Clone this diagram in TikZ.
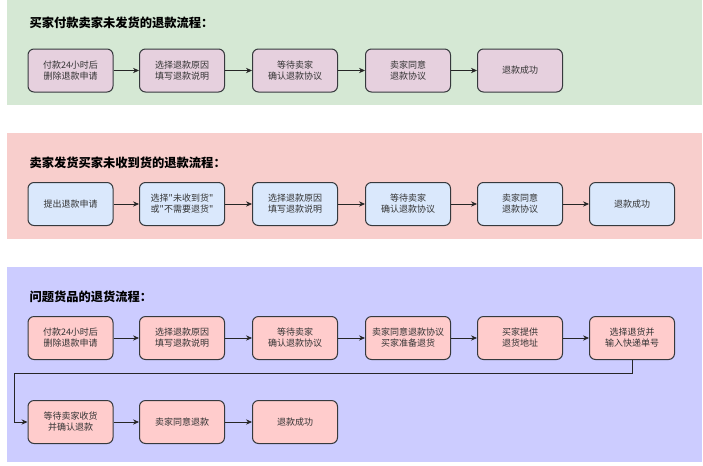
\documentclass[tikz,border=0pt]{standalone}
\usepackage{fontspec}
\setmainfont{Noto Sans CJK SC}[Ligatures=TeXOff]
\usetikzlibrary{arrows.meta}

\definecolor{greenbg}{RGB}{213,232,212}
\definecolor{pinkbg}{RGB}{248,206,204}
\definecolor{lavbg}{RGB}{204,204,255}
\definecolor{mauvebox}{RGB}{230,208,222}
\definecolor{bluebox}{RGB}{218,232,252}
\definecolor{rosebox}{RGB}{255,204,204}
\definecolor{edge}{RGB}{54,57,61}

\tikzset{every picture/.style={line width=0.75pt}}
\tikzset{
  stepbox/.style={draw=edge, rounded corners=4.5pt, minimum width=63.75pt,
    minimum height=32.25pt, inner sep=0pt, align=center,
    font=\fontsize{6.75}{8.25}\selectfont, text=black!80},
  headline/.style={anchor=west, inner sep=0pt, font=\fontsize{9.2}{11}\selectfont\bfseries},
  flow/.style={draw=black!85, line width=0.6pt, -{Stealth[length=4.5pt,width=4pt]}}
}

\begin{document}
\begin{tikzpicture}[x=0.75pt,y=0.75pt,yscale=-1,xscale=1]
\useasboundingbox (0,0) rectangle (703,465);

%Shape: Rectangle [panels]
\fill [greenbg] (7,0) rectangle (702,105);
\fill [pinkbg] (7,133) rectangle (702,239);
\fill [lavbg] (7,267) rectangle (702,462);

%Text: headlines
\node [headline] (headA) at (29,23) {买家付款卖家未发货的退款流程：};
\node [headline] (headB) at (29,163) {卖家发货买家未收到货的退款流程：};
\node [headline] (headC) at (29,297) {问题货品的退货流程：};

%Flow A
\node [stepbox, fill=mauvebox] (a1) at (70.5,70.5) {付款24小时后\\删除退款申请};
\node [stepbox, fill=mauvebox] (a2) at (182,70.5) {选择退款原因\\填写退款说明};
\node [stepbox, fill=mauvebox] (a3) at (295,70.5) {等待卖家\\确认退款协议};
\node [stepbox, fill=mauvebox] (a4) at (408,70.5) {卖家同意\\退款协议};
\node [stepbox, fill=mauvebox] (a5) at (520,70.5) {退款成功};
\draw [flow] (a1) -- (a2);
\draw [flow] (a2) -- (a3);
\draw [flow] (a3) -- (a4);
\draw [flow] (a4) -- (a5);

%Flow B
\node [stepbox, fill=bluebox] (b1) at (70.5,204) {提出退款申请};
\node [stepbox, fill=bluebox] (b2) at (182,204) {选择"未收到货"\\或"不需要退货"};
\node [stepbox, fill=bluebox] (b3) at (295,204) {选择退款原因\\填写退款说明};
\node [stepbox, fill=bluebox] (b4) at (408,204) {等待卖家\\确认退款协议};
\node [stepbox, fill=bluebox] (b5) at (520,204) {卖家同意\\退款协议};
\node [stepbox, fill=bluebox] (b6) at (632,204) {退款成功};
\draw [flow] (b1) -- (b2);
\draw [flow] (b2) -- (b3);
\draw [flow] (b3) -- (b4);
\draw [flow] (b4) -- (b5);
\draw [flow] (b5) -- (b6);

%Flow C
\node [stepbox, fill=rosebox] (c1) at (70.5,338) {付款24小时后\\删除退款申请};
\node [stepbox, fill=rosebox] (c2) at (182,338) {选择退款原因\\填写退款说明};
\node [stepbox, fill=rosebox] (c3) at (295,338) {等待卖家\\确认退款协议};
\node [stepbox, fill=rosebox] (c4) at (408,338) {卖家同意退款协议\\买家准备退货};
\node [stepbox, fill=rosebox] (c5) at (520,338) {买家提供\\退货地址};
\node [stepbox, fill=rosebox] (c6) at (632,338) {选择退货并\\输入快递单号};
\node [stepbox, fill=rosebox] (c7) at (70.5,422) {等待卖家收货\\并确认退款};
\node [stepbox, fill=rosebox] (c8) at (182,422) {卖家同意退款};
\node [stepbox, fill=rosebox] (c9) at (295,422) {退款成功};
\draw [flow] (c1) -- (c2);
\draw [flow] (c2) -- (c3);
\draw [flow] (c3) -- (c4);
\draw [flow] (c4) -- (c5);
\draw [flow] (c5) -- (c6);
\draw [flow] (c6.south) |- (14,373) |- (c7.west);
\draw [flow] (c7) -- (c8);
\draw [flow] (c8) -- (c9);
\end{tikzpicture}
\end{document}
